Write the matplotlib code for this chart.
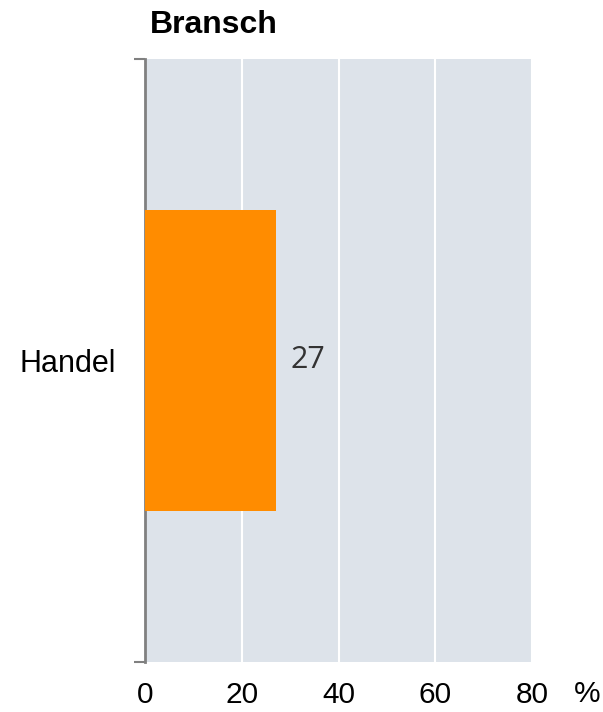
import matplotlib.pyplot as plt

# data
categories = ["Handel"]
values = [27]
xticks = [0, 20, 40, 60, 80]

plt.rcParams['font.family'] = ['Liberation Sans', 'DejaVu Sans']

fig = plt.figure(figsize=(6.03, 7.12), dpi=100)
ax = fig.add_axes([145 / 603, 1 - 662 / 712, (532 - 145) / 603, (662 - 59) / 712])

ax.set_facecolor('#dde3ea')
ax.barh(categories, values, height=0.5, color='#ff8c00', zorder=3)
ax.set_xlim(0, 80)
ax.set_ylim(-0.5, 0.5)

ax.set_xticks(xticks)
ax.set_xticklabels([str(t) for t in xticks], fontsize=21.5)
ax.tick_params(axis='x', length=0, pad=14)
ax.grid(axis='x', color='white', linewidth=1.5, zorder=1)
ax.set_axisbelow(True)

ax.set_yticks([0])
ax.set_yticklabels(categories, fontsize=22)
ax.tick_params(axis='y', which='major', length=0, pad=21)
ax.set_yticks([-0.5, 0.5], minor=True)
ax.tick_params(axis='y', which='minor', length=8, width=1.5, color='#808080')

for s in ['top', 'right', 'bottom']:
    ax.spines[s].set_visible(False)
ax.spines['left'].set_color('#808080')
ax.spines['left'].set_linewidth(2)

for i, v in enumerate(values):
    ax.text(v + 3, i, str(v), va='center', ha='left', fontsize=22,
            color='#333333', family=['Open Sans', 'DejaVu Sans'])

fig.text(574 / 603, 1 - 694 / 712, '%', fontsize=21.5, va='center', ha='left')
fig.text(150 / 603, 1 - 25 / 712, 'Bransch', fontsize=23, fontweight='bold',
         va='center', ha='left')

fig.savefig('out.png', dpi=100)
